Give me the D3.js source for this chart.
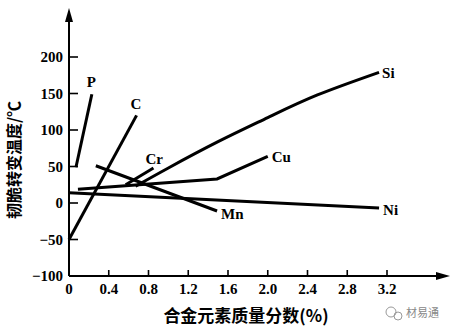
<!DOCTYPE html>
<html><head><meta charset="utf-8">
<script src="https://cdn.jsdelivr.net/npm/d3@7/dist/d3.min.js"></script>
<style>body{margin:0;background:#fff}svg{display:block}</style>
</head><body>
<script>
// ---- data ----
const xTicks = [0, 0.4, 0.8, 1.2, 1.6, 2.0, 2.4, 2.8, 3.2];
const yTicks = [-100, -50, 0, 50, 100, 150, 200];
const seriesNames = ["P", "C", "Cr", "Si", "Cu", "Mn", "Ni"];
const P_x = [0.07, 0.23],  P_y = [49, 149];
const C_x = [0, 0.68],     C_y = [-50, 120];
const Cr_x = [0.57, 0.85], Cr_y = [25, 48];
const Si_x = [0.67, 1.0, 1.5, 2.0, 2.5, 3.12], Si_y = [23, 48, 84, 117, 148, 179];
const Cu_x = [0.09, 1.49, 2.0], Cu_y = [19, 33, 64];
const Mn_x = [0.27, 1.49], Mn_y = [51, -11];
const Ni_x = [0, 3.12],    Ni_y = [14, -7];
const xTitle = "合金元素质量分数(%)";
const yTitle = "韧脆转变温度/℃";

const seriesData = {P:[P_x,P_y], C:[C_x,C_y], Cr:[Cr_x,Cr_y], Si:[Si_x,Si_y], Cu:[Cu_x,Cu_y], Mn:[Mn_x,Mn_y], Ni:[Ni_x,Ni_y]};

// ---- layout ----
const W = 455, H = 333;
const svg = d3.select("body").append("svg").attr("width", W).attr("height", H);
const x = d3.scaleLinear().domain([0, 3.2]).range([69, 387]);
const y = d3.scaleLinear().domain([-100, 200]).range([276, 57]);
const serif = "'Liberation Serif','Times New Roman',serif";
const cjk = "'Noto Sans CJK SC',sans-serif";

// axes lines
const ax0 = x(0), ay0 = y(-100);
svg.append("line").attr("x1", ax0).attr("x2", ax0).attr("y1", ay0).attr("y2", 18)
  .attr("stroke", "#000").attr("stroke-width", 2);
svg.append("line").attr("x1", ax0).attr("x2", 440).attr("y1", ay0).attr("y2", ay0)
  .attr("stroke", "#000").attr("stroke-width", 2);
// arrows
svg.append("path").attr("d", `M${ax0},8 L${ax0-4},22 L${ax0+4},22 Z`).attr("fill", "#000");
svg.append("path").attr("d", `M450,${ay0} L436,${ay0-4} L436,${ay0+4} Z`).attr("fill", "#000");

// y ticks
const yAxisG = svg.append("g");
yTicks.forEach(t => {
  if (t !== -100) yAxisG.append("line").attr("x1", ax0).attr("x2", ax0 + 9)
    .attr("y1", y(t)).attr("y2", y(t)).attr("stroke", "#000").attr("stroke-width", 1.6);
  yAxisG.append("text").attr("x", 63).attr("y", y(t)).attr("dy", "0.35em")
    .attr("text-anchor", "end").attr("font-family", serif).attr("font-weight", "bold")
    .attr("font-size", 15).text(t < 0 ? "\u2212" + Math.abs(t) : t);
});
// x ticks
const xAxisG = svg.append("g");
xTicks.forEach(t => {
  if (t !== 0) xAxisG.append("line").attr("x1", x(t)).attr("x2", x(t))
    .attr("y1", ay0).attr("y2", ay0 - 6).attr("stroke", "#000").attr("stroke-width", 1.6);
  xAxisG.append("text").attr("x", x(t)).attr("y", 294).attr("text-anchor", "middle")
    .attr("font-family", serif).attr("font-weight", "bold").attr("font-size", 15)
    .text(t === 0 ? "0" : d3.format(".1f")(t));
});

// titles
svg.append("text").attr("transform", "translate(20,160) rotate(-90)")
  .attr("text-anchor", "middle").attr("font-family", cjk).attr("font-weight", "bold")
  .attr("font-size", 16).text(yTitle);
svg.append("text").attr("x", 246).attr("y", 322).attr("text-anchor", "middle")
  .attr("font-family", cjk).attr("font-weight", "bold").attr("font-size", 17).text(xTitle);

// lines
const labelOffsets = {P:[-5,-7], C:[-6,-6], Cr:[-8,-4], Si:[3,6], Cu:[4,6], Mn:[4,8], Ni:[4,7]};
seriesNames.forEach(n => {
  const [xs, ys] = seriesData[n];
  const pts = xs.map((v, i) => [v, ys[i]]);
  const line = d3.line().x(d => x(d[0])).y(d => y(d[1]))
    .curve(n === "Si" ? d3.curveNatural : d3.curveLinear);
  svg.append("path").attr("d", line(pts)).attr("fill", "none")
    .attr("stroke", "#000").attr("stroke-width", 3).attr("stroke-linecap", "butt");
  const last = pts[pts.length - 1];
  const o = labelOffsets[n];
  svg.append("text").attr("x", x(last[0]) + o[0]).attr("y", y(last[1]) + o[1])
    .attr("font-family", serif).attr("font-weight", "bold").attr("font-size", 15).text(n);
});

// watermark
const wm = svg.append("g").attr("fill", "none").attr("stroke", "#999").attr("stroke-width", 1);
wm.append("circle").attr("cx", 391).attr("cy", 312).attr("r", 5);
wm.append("circle").attr("cx", 398).attr("cy", 316).attr("r", 4);
svg.append("text").attr("x", 406).attr("y", 317).attr("font-family", cjk)
  .attr("font-size", 11).attr("fill", "#888").text("材易通");
</script>
</body></html>
